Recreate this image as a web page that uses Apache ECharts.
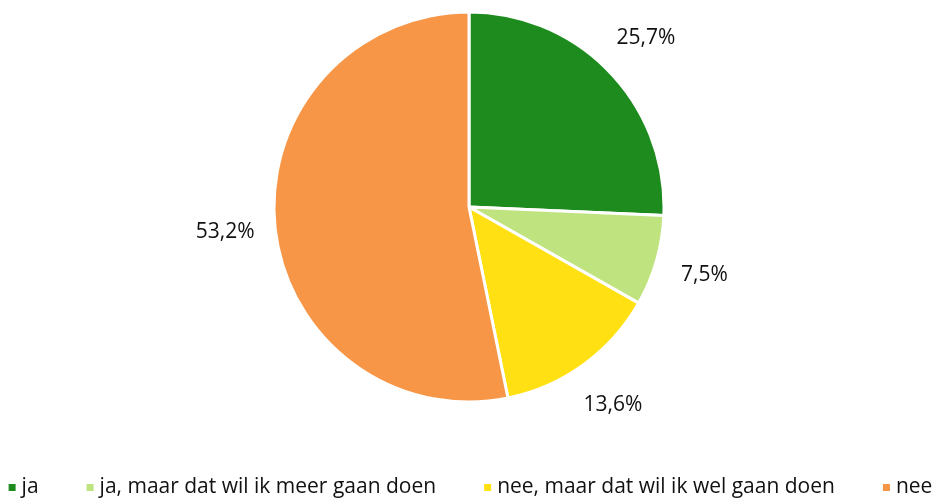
<!DOCTYPE html>
<html>
<head>
<meta charset="utf-8">
<script src="https://cdn.jsdelivr.net/npm/echarts@6/dist/echarts.min.js"></script>
<style>
    html, body { margin: 0; padding: 0; background: #fff; }
    #chart { width: 939px; height: 500px; }
</style>
</head>
<body>
<div id="chart"></div>
<script>
    // antwoorden en percentages
    const categories = ['ja', 'ja, maar dat wil ik meer gaan doen', 'nee, maar dat wil ik wel gaan doen', 'nee'];
    const values = [25.7, 7.5, 13.6, 53.2];
    const colors = ['#1e8b1e', '#bfe37e', '#ffe013', '#f79646'];

    const font = '"Open Sans", sans-serif';
    const pieData = categories.map((name, i) => ({ name: name, value: values[i] }));

    const myChart = echarts.init(document.getElementById('chart'));
    const option = {
        color: colors,
        animation: false,
        legend: {
            data: categories,
            left: 'center',
            top: 472,
            icon: 'rect',
            itemWidth: 9,
            itemHeight: 9,
            itemGap: 46,
            textStyle: { fontFamily: font, fontSize: 21, color: '#111' }
        },
        series: [
            {
                name: 'antwoord',
                type: 'pie',
                center: [469, 207],
                radius: 195,
                startAngle: 90,
                clockwise: true,
                label: { show: false },
                labelLine: { show: false },
                itemStyle: { borderColor: '#fff', borderWidth: 3 },
                emphasis: { disabled: true },
                data: pieData
            },
            {
                // onzichtbare ring alleen voor de labels
                name: 'labels',
                type: 'pie',
                center: [469, 207],
                radius: [231, 253],
                startAngle: 90,
                clockwise: true,
                silent: true,
                itemStyle: { color: 'rgba(0,0,0,0)' },
                label: {
                    show: true,
                    position: 'inside',
                    rotate: 0,
                    fontFamily: font,
                    fontSize: 21,
                    color: '#111',
                    formatter: p => p.value.toFixed(1).replace('.', ',') + '%'
                },
                labelLine: { show: false },
                emphasis: { disabled: true },
                data: pieData
            }
        ]
    };
    myChart.setOption(option);
</script>
</body>
</html>
